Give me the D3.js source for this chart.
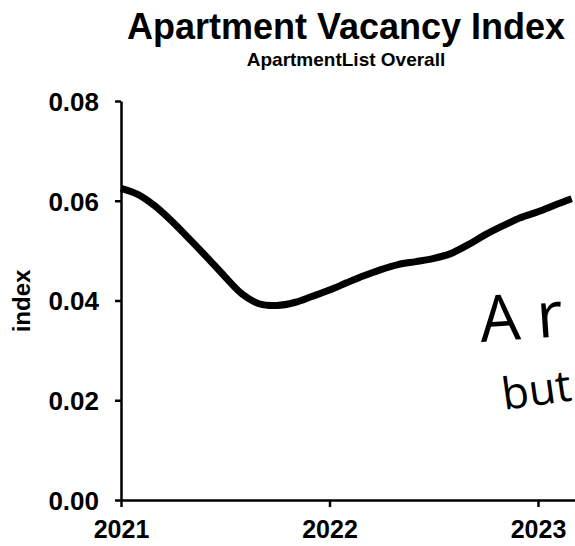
<!DOCTYPE html>
<html>
<head>
<meta charset="utf-8">
<script src="https://cdn.jsdelivr.net/npm/d3@7"></script>
<style>
    body { margin: 0; background: #fff; }
    svg { display: block; }
    text { font-family: "Liberation Sans", Arial, sans-serif; }
</style>
</head>
<body>
<div id="chart"></div>
<script>
// monthly values, Jan 2021 .. Mar 2023
var meses = ["2021-01","2021-02","2021-03","2021-04","2021-05","2021-06","2021-07","2021-08","2021-09",
    "2021-10","2021-11","2021-12","2022-01","2022-02","2022-03","2022-04","2022-05","2022-06",
    "2022-07","2022-08","2022-09","2022-10","2022-11","2022-12","2023-01","2023-02","2023-03"];
var indice = [0.0625, 0.0612, 0.0590, 0.0558, 0.0523, 0.0486, 0.0449, 0.0413, 0.0393,
    0.0390, 0.0396, 0.0408, 0.0421, 0.0436, 0.0449, 0.0462, 0.0472, 0.0478,
    0.0484, 0.0494, 0.0512, 0.0532, 0.0550, 0.0566, 0.0578, 0.0592, 0.0604];
var ticksY = [0, 0.02, 0.04, 0.06, 0.08];
var anios = [2021, 2022, 2023];
var notas = ["A r", "but"];

var width = 575, height = 546;
var parseMes = d3.timeParse("%Y-%m");

var svg = d3.select("#chart").append("svg")
    .attr("width", width)
    .attr("height", height);

var x = d3.scaleTime()
    .domain([new Date(2021, 0, 1), new Date(2024, 0, 1)])
    .range([121, 121 + 3 * 208.5]);

var y = d3.scaleLinear()
    .domain([0, 0.08])
    .range([500, 101]);

// titulo
svg.append("text")
    .attr("x", 346).attr("y", 39)
    .attr("text-anchor", "middle")
    .style("font-size", "36px").style("font-weight", "bold")
    .text("Apartment Vacancy Index");
svg.append("text")
    .attr("x", 346).attr("y", 66)
    .attr("text-anchor", "middle")
    .style("font-size", "19px").style("font-weight", "bold")
    .text("ApartmentList Overall");

// ejes
var ejeY = svg.append("g")
    .attr("transform", "translate(" + x.range()[0] + ",0)")
    .call(d3.axisLeft(y).tickValues(ticksY).tickFormat(d3.format(".2f")).tickSize(6).tickSizeOuter(0).tickPadding(16));

var ejeX = svg.append("g")
    .attr("transform", "translate(0," + y(0) + ")")
    .call(d3.axisBottom(x).tickValues(anios.map(function (a) { return new Date(a, 0, 1); }))
        .tickFormat(d3.timeFormat("%Y")).tickSize(7).tickSizeOuter(0).tickPadding(13));

[ejeX, ejeY].forEach(function (eje) {
    eje.select(".domain").attr("stroke", "#000").attr("stroke-width", 2.5);
    eje.selectAll(".tick line").attr("stroke", "#000").attr("stroke-width", 2.5);
    eje.selectAll(".tick text")
        .attr("fill", "#000")
        .style("font-family", "'Liberation Sans', Arial, sans-serif")
        .style("font-weight", "bold");
});
ejeY.selectAll(".tick text").style("font-size", "26px").attr("dy", "0.36em");
ejeX.selectAll(".tick text").style("font-size", "25px").attr("dy", "0.71em");

svg.append("text")
    .attr("transform", "translate(30,301) rotate(-90)")
    .attr("text-anchor", "middle")
    .style("font-size", "24px").style("font-weight", "bold")
    .text("index");

// linea
var datos = meses.map(function (m, i) { return { fecha: parseMes(m), valor: indice[i] }; });
var linea = d3.line()
    .x(function (d) { return x(d.fecha); })
    .y(function (d) { return y(d.valor); })
    .curve(d3.curveCatmullRom);

svg.append("path")
    .datum(datos)
    .attr("fill", "none")
    .attr("stroke", "#000")
    .attr("stroke-width", 7)
    .attr("stroke-linejoin", "round")
    .attr("d", linea);

// nota manuscrita
svg.append("text")
    .attr("x", 481).attr("y", 342)
    .attr("transform", "rotate(-4,481,342)")
    .style("font-family", "'Open Sans', 'DejaVu Sans', sans-serif")
    .style("font-size", "64px")
    .text(notas[0]);
svg.append("text")
    .attr("x", 504).attr("y", 410)
    .attr("transform", "rotate(-8,504,410)")
    .style("font-family", "'Open Sans', 'DejaVu Sans', sans-serif")
    .style("font-size", "44px")
    .text(notas[1]);
</script>
</body>
</html>
